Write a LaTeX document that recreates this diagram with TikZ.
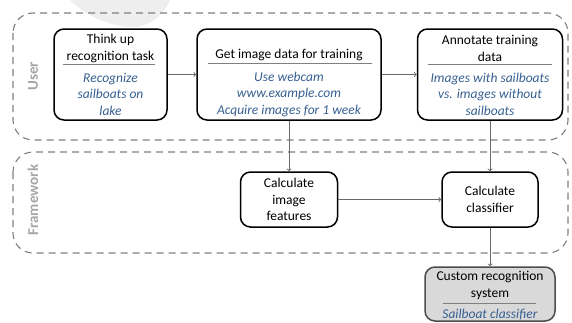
\documentclass[tikz,border=0pt]{standalone}
\usepackage{fontspec}
\setmainfont{Carlito}
\usetikzlibrary{positioning}
\definecolor{notecol}{RGB}{54,95,145}
\definecolor{lanecol}{RGB}{128,128,128}
\definecolor{linkcol}{RGB}{105,105,105}
\tikzset{
  procbox/.style={draw=black, line width=1.5pt, rounded corners=10pt, align=center,
    font=\fontsize{13.5}{16.5}\selectfont},
  boxtitle/.style={align=center, font=\fontsize{13.5}{16.5}\selectfont},
  boxnote/.style={align=center, text=notecol, font=\fontsize{13.5}{16.5}\selectfont\itshape},
  divider/.style={draw=gray, line width=0.7pt},
  link/.style={draw=linkcol, line width=0.9pt, ->, >=to},
  lane/.style={draw=lanecol, dash pattern=on 7pt off 5pt, line width=1.1pt, rounded corners=20pt},
  lanelabel/.style={rotate=90, text=gray!70, font=\fontsize{15}{17}\selectfont\bfseries}
}
\begin{document}
\begin{tikzpicture}[x=1pt,y=-1pt]
\useasboundingbox (0,0) rectangle (572,322);
% faint shape at the top
\fill[gray!13] (70,0) .. controls (88,18) and (115,28) .. (135,27) .. controls (155,25) and (166,10) .. (170,0) -- cycle;

% lanes
\draw[lane] (13,13) rectangle (568,140);
\draw[lane] (13,152) rectangle (568,253);
\node[lanelabel] (userlbl) at (33,76) {User};
\node[lanelabel] (fwlbl) at (33,200) {Framework};

% user steps
\node[procbox, minimum width=113pt, minimum height=91pt] (think) at (110.5,74.5) {};
\node[boxtitle] (thinkttl) at (110.5,48.5) {Think up\\recognition task};
\draw[divider] (63,64) -- (155,64);
\node[boxnote] (thinknote) at (110.5,94) {Recognize\\sailboats on\\lake};

\node[procbox, minimum width=184pt, minimum height=91pt] (getdata) at (289,74.5) {};
\node[boxtitle] (getdatattl) at (289,55) {Get image data for training};
\draw[divider] (208,63) -- (372,63);
\node[boxnote] (getdatanote) at (289,94) {Use webcam\\www.example.com\\Acquire images for 1 week};

\node[procbox, minimum width=145pt, minimum height=91pt] (annotate) at (490,74.5) {};
\node[boxtitle] (annotatettl) at (490,48.5) {Annotate training\\data};
\draw[divider] (428,64) -- (552,64);
\node[boxnote] (annotatenote) at (490,94) {Images with sailboats\\vs. images without\\sailboats};

% framework steps
\node[procbox, minimum width=97pt, minimum height=55pt] (calcfeat) at (289,199.5) {Calculate\\image\\features};
\node[procbox, minimum width=96pt, minimum height=55pt] (calcclf) at (490,199.5) {Calculate\\classifier};

% result
\node[procbox, draw=black!70, fill=black!15, minimum width=130pt, minimum height=54pt] (custom) at (490,294) {};
\node[boxtitle] (customttl) at (490,285.5) {Custom recognition\\system};
\draw[divider] (443,303) -- (536,303);
\node[boxnote] (customnote) at (490,315) {Sailboat classifier};

% links
\draw[link] (think) -- (getdata);
\draw[link] (getdata) -- (annotate);
\draw[link] (getdata) -- (calcfeat);
\draw[link] (annotate) -- (calcclf);
\draw[link] (calcfeat) -- (calcclf);
\draw[link] (calcclf) -- (custom);
\end{tikzpicture}
\end{document}
